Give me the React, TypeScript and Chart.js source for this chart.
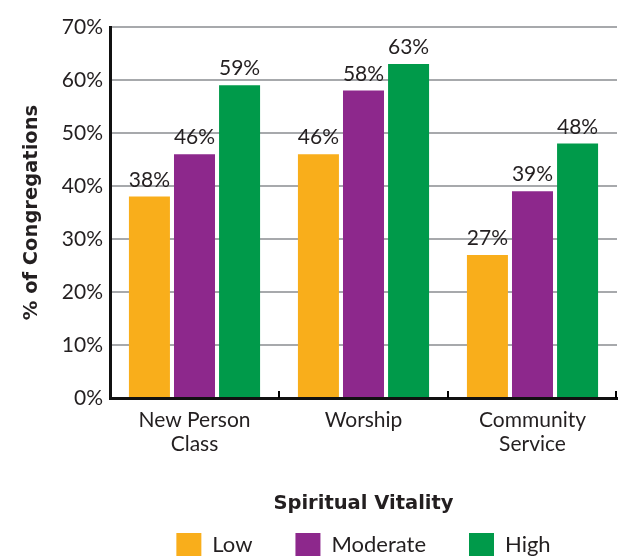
import React, { useEffect, useRef } from 'react';
import { Chart, registerables } from 'chart.js';

Chart.register(...registerables);

const categories: (string | string[])[] = [['New Person', 'Class'], 'Worship', ['Community', 'Service']];
const seriesNames = ['Low', 'Moderate', 'High'];
const lowValues = [38, 46, 27];
const moderateValues = [46, 58, 39];
const highValues = [59, 63, 48];
const seriesColors = ['#F9AE1B', '#8D288C', '#009A4A'];
const yMin = 0;
const yMax = 70;
const yStep = 10;
const yTitle = '% of Congregations';
const xTitle = 'Spiritual Vitality';

const FONT = 'Lato, "Open Sans", sans-serif';
const BOLD_FONT = '"DejaVu Sans", Lato, sans-serif';
const TEXT = '#231f20';

const valueLabels = {
  id: 'valueLabels',
  afterDatasetsDraw(chart: any) {
    const ctx = chart.ctx;
    ctx.save();
    ctx.font = `21px ${FONT}`;
    ctx.fillStyle = TEXT;
    ctx.textAlign = 'center';
    ctx.textBaseline = 'alphabetic';
    chart.data.datasets.forEach((ds: any, i: number) => {
      const meta = chart.getDatasetMeta(i);
      meta.data.forEach((el: any, j: number) => {
        ctx.fillText(ds.data[j] + '%', el.x, el.y - 10);
      });
    });
    ctx.restore();
  },
};

const categoryTicks = {
  id: 'categoryTicks',
  afterDatasetsDraw(chart: any) {
    const { ctx, chartArea } = chart;
    const x = chart.scales.x;
    const n = x.ticks.length;
    ctx.save();
    ctx.strokeStyle = '#000';
    ctx.lineWidth = 2;
    for (let i = 1; i <= n; i++) {
      const px = i < n ? (x.getPixelForValue(i - 1) + x.getPixelForValue(i)) / 2 : chartArea.right - 1;
      ctx.beginPath();
      ctx.moveTo(px, chartArea.bottom);
      ctx.lineTo(px, chartArea.bottom - 7);
      ctx.stroke();
    }
    ctx.restore();
  },
};

export default function App() {
  const ref = useRef<HTMLCanvasElement>(null);
  useEffect(() => {
    if (!ref.current) return;
    const values = [lowValues, moderateValues, highValues];
    const chart = new Chart(ref.current, {
      type: 'bar',
      data: {
        labels: categories,
        datasets: seriesNames.map((name, i) => ({
          label: name,
          data: values[i],
          backgroundColor: seriesColors[i],
          borderWidth: 0,
          categoryPercentage: 0.8,
          barPercentage: 0.91,
        })),
      },
      options: {
        responsive: false,
        animation: false,
        layout: { padding: { left: 10, right: 8, top: 27, bottom: 0 } },
        scales: {
          x: {
            grid: { display: false, drawTicks: false },
            border: { display: true, color: '#111', width: 3 },
            ticks: { color: TEXT, font: { family: FONT, size: 21, lineHeight: '24px' }, padding: 10, maxRotation: 0 },
            title: {
              display: true,
              text: xTitle,
              color: TEXT,
              font: { family: BOLD_FONT, size: 19.5, weight: 'bold', lineHeight: 1.2 },
              padding: { top: 0, bottom: -26 },
            },
            afterFit(scale: any) {
              scale.height = 92;
            },
          },
          y: {
            min: yMin,
            max: yMax,
            ticks: {
              stepSize: yStep,
              color: TEXT,
              font: { family: FONT, size: 21 },
              padding: 7,
              callback: (v: any) => v + '%',
            },
            grid: {
              drawTicks: false,
              lineWidth: 2,
              color: (c: any) => (c.tick && c.tick.value === 0 ? 'rgba(0,0,0,0)' : '#a7a9ac'),
            },
            border: { display: true, color: '#111', width: 3 },
            title: {
              display: true,
              text: yTitle,
              color: TEXT,
              font: { family: BOLD_FONT, size: 19.5, weight: 'bold', lineHeight: 1.2 },
              padding: { top: 10, bottom: 0 },
            },
            afterFit(scale: any) {
              scale.width = 100;
            },
          },
        },
        plugins: {
          legend: {
            position: 'bottom',
            fullSize: false,
            labels: {
              boxWidth: 25,
              boxHeight: 23,
              padding: 43,
              color: TEXT,
              font: { family: FONT, size: 22 },
            },
          },
          tooltip: { enabled: false },
        },
      },
      plugins: [valueLabels, categoryTicks],
    } as any);
    return () => chart.destroy();
  }, []);
  return (
    <div style={{ position: 'fixed', left: 0, top: 0, width: 625, height: 556, overflow: 'hidden', background: '#fff' }}>
      <canvas ref={ref} width={625} height={566} style={{ display: 'block' }} />
    </div>
  );
}
